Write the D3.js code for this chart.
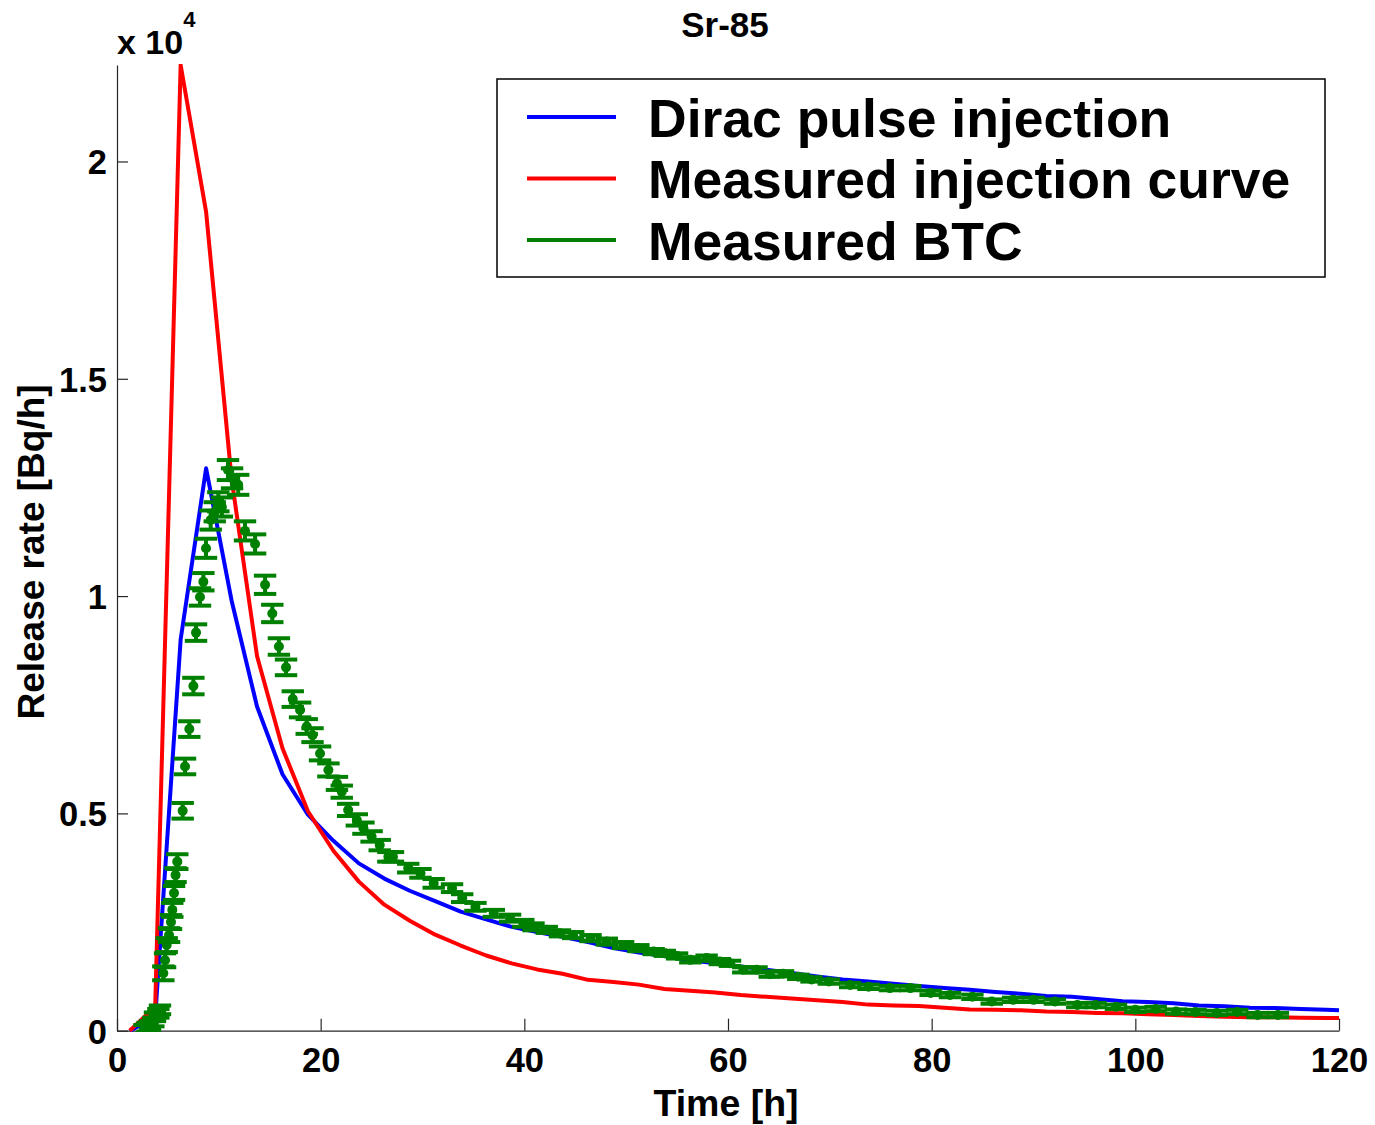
<!DOCTYPE html>
<html><head><meta charset="utf-8">
<script src="https://cdn.jsdelivr.net/npm/d3@7"></script>
<style>
body{margin:0;background:#fff;}
text{font-family:"Liberation Sans",Arial,Helvetica,sans-serif;font-weight:bold;fill:#000;}
</style></head>
<body><svg id="chart" width="1375" height="1125"></svg>
<script>
// values in units of 1e4 Bq/h
const modelTimes = [1.25,3.75,6.25,8.75,11.25,13.75,16.25,18.75,21.25,23.75,26.25,28.75,31.25,33.75,36.25,38.75,41.25,43.75,46.25,48.75,51.25,53.75,56.25,58.75,61.25,63.75,66.25,68.75,71.25,73.75,76.25,78.75,81.25,83.75,86.25,88.75,91.25,93.75,96.25,98.75,101.25,103.75,106.25,108.75,111.25,113.75,116.25,118.75,120];
const diracValues = [0,0.03,0.90,1.294,0.99,0.746,0.59,0.497,0.437,0.385,0.35,0.322,0.298,0.274,0.256,0.239,0.227,0.216,0.204,0.19,0.18,0.172,0.162,0.155,0.148,0.14,0.133,0.125,0.118,0.113,0.108,0.103,0.098,0.094,0.089,0.085,0.08,0.078,0.073,0.068,0.066,0.063,0.058,0.056,0.053,0.052,0.05,0.048,0.047];
const injectionValues = [0,0.055,2.222,1.884,1.27,0.862,0.65,0.505,0.414,0.343,0.29,0.253,0.221,0.196,0.173,0.155,0.141,0.131,0.117,0.112,0.106,0.096,0.092,0.088,0.082,0.078,0.074,0.07,0.066,0.06,0.058,0.057,0.053,0.049,0.048,0.047,0.044,0.043,0.041,0.04,0.038,0.036,0.034,0.032,0.031,0.031,0.03,0.029,0.029];
const btcTimes = [2.7,3.0,3.24,3.57,3.73,4.06,4.22,4.55,4.72,4.88,5.11,5.3,5.43,5.6,5.75,5.92,6.45,6.68,7.1,7.5,7.76,8.15,8.48,8.74,9.2,9.6,9.95,10.3,10.9,11.3,11.9,12.57,13.56,14.54,15.25,15.9,16.6,17.26,17.98,18.63,19.2,19.94,20.76,21.6,22.07,22.7,23.55,24.2,25.0,25.8,26.65,27.1,28.6,29.8,31.1,32.9,33.9,35.2,37.0,38.6,39.9,40.9,42.2,43.5,44.8,46.5,48.1,49.7,51.2,52.7,53.8,55.0,56.3,57.9,59.2,60.2,61.5,62.8,64.1,65.4,66.9,68.2,69.9,72.0,73.8,75.9,77.9,79.9,81.8,84.0,85.9,88.0,90.0,92.1,94.3,96.1,98.1,100,102,104,105.9,108,110,112,114];
const btcValues = [0.003,0.008,0.012,0.02,0.032,0.04,0.048,0.132,0.162,0.197,0.22,0.25,0.278,0.317,0.358,0.389,0.506,0.608,0.694,0.793,0.916,0.998,1.033,1.11,1.175,1.194,1.217,1.205,1.29,1.271,1.256,1.15,1.12,1.026,0.96,0.884,0.836,0.763,0.738,0.70,0.68,0.638,0.60,0.569,0.55,0.508,0.485,0.466,0.447,0.427,0.40,0.40,0.374,0.362,0.339,0.328,0.305,0.285,0.27,0.259,0.247,0.239,0.232,0.224,0.22,0.213,0.205,0.197,0.19,0.182,0.178,0.172,0.163,0.167,0.159,0.155,0.14,0.14,0.13,0.131,0.124,0.118,0.113,0.105,0.101,0.098,0.098,0.087,0.082,0.078,0.067,0.071,0.071,0.067,0.059,0.059,0.055,0.048,0.05,0.044,0.043,0.041,0.043,0.036,0.036];
const btcErrors = [0.01,0.01,0.01,0.01,0.01,0.01,0.01,0.016,0.016,0.016,0.016,0.016,0.016,0.016,0.016,0.017,0.018,0.018,0.018,0.019,0.019,0.02,0.02,0.022,0.022,0.022,0.022,0.022,0.023,0.023,0.023,0.022,0.022,0.021,0.02,0.019,0.018,0.018,0.017,0.017,0.016,0.016,0.015,0.015,0.014,0.014,0.013,0.013,0.012,0.012,0.011,0.011,0.01,0.01,0.01,0.009,0.009,0.009,0.008,0.008,0.008,0.008,0.007,0.007,0.007,0.007,0.007,0.007,0.007,0.006,0.006,0.006,0.006,0.006,0.006,0.006,0.006,0.006,0.006,0.006,0.005,0.005,0.005,0.005,0.005,0.005,0.005,0.005,0.005,0.005,0.005,0.005,0.005,0.005,0.005,0.005,0.005,0.005,0.005,0.005,0.005,0.005,0.005,0.005,0.005];
const xTicks = [0,20,40,60,80,100,120];
const yTicks = [0,0.5,1,1.5,2];
const yTickLabels = ["0","0.5","1","1.5","2"];
const legendLabels = ["Dirac pulse injection","Measured injection curve","Measured BTC"];
const colors = ["#0000ff","#ff0000","#008000"];

const svg = d3.select("#chart");
const x = d3.scaleLinear().domain([0,120]).range([117,1339]);
const y = d3.scaleLinear().domain([0,2.222]).range([1030.7,65]);

svg.append("defs").append("clipPath").attr("id","clip")
  .append("rect").attr("x",117).attr("y",64).attr("width",1223).attr("height",968);

// axes
const xAxis = svg.append("g").attr("transform","translate(0,1030.7)")
  .call(d3.axisBottom(x).tickValues(xTicks).tickFormat(d3.format("d")).tickSizeInner(-12).tickSizeOuter(0).tickPadding(17));
const yAxis = svg.append("g").attr("transform","translate(117,0)")
  .call(d3.axisLeft(y).tickValues(yTicks).tickFormat((d,i)=>yTickLabels[i]).tickSizeInner(-11).tickSizeOuter(0).tickPadding(10));
[xAxis,yAxis].forEach(g=>{
  g.selectAll("path,line").attr("stroke","#262626").attr("stroke-width",1.2);
  g.selectAll("text").style("font-size","34.5px").style("font-family",'"Liberation Sans",Arial,sans-serif').style("font-weight","bold").attr("fill","#000");
});
yAxis.selectAll("text").attr("dy","0.36em");

const plot = svg.append("g").attr("clip-path","url(#clip)");
const line = d3.line().x(d=>x(d[0])).y(d=>y(d[1]));
plot.append("path").datum(modelTimes.map((t,i)=>[t,diracValues[i]]))
  .attr("d",line).attr("fill","none").attr("stroke",colors[0]).attr("stroke-width",4).attr("stroke-linejoin","round");
plot.append("path").datum(modelTimes.map((t,i)=>[t,injectionValues[i]]))
  .attr("d",line).attr("fill","none").attr("stroke",colors[1]).attr("stroke-width",4).attr("stroke-linejoin","round");

const btc = btcTimes.map((t,i)=>({t,v:btcValues[i],e:btcErrors[i]}));
const capHalf = 1.1; // hours
const eb = plot.append("g").attr("stroke",colors[2]).attr("stroke-width",4);
eb.selectAll("line.v").data(btc).join("line").attr("class","v")
  .attr("x1",d=>x(d.t)).attr("x2",d=>x(d.t)).attr("y1",d=>y(d.v-d.e)).attr("y2",d=>y(d.v+d.e));
eb.selectAll("line.top").data(btc).join("line").attr("class","top")
  .attr("x1",d=>x(d.t-capHalf)).attr("x2",d=>x(d.t+capHalf)).attr("y1",d=>y(d.v+d.e)).attr("y2",d=>y(d.v+d.e));
eb.selectAll("line.bot").data(btc).join("line").attr("class","bot")
  .attr("x1",d=>x(d.t-capHalf)).attr("x2",d=>x(d.t+capHalf)).attr("y1",d=>y(d.v-d.e)).attr("y2",d=>y(d.v-d.e));
plot.append("g").selectAll("circle").data(btc).join("circle")
  .attr("cx",d=>x(d.t)).attr("cy",d=>y(d.v)).attr("r",5).attr("fill",colors[2]);

// title and labels
svg.append("text").attr("x",725).attr("y",37).attr("text-anchor","middle").style("font-size","35px").text("Sr-85");
const mult = svg.append("text").attr("x",117).attr("y",54).style("font-size","34px");
mult.append("tspan").text("x 10");
mult.append("tspan").attr("dy",-27).style("font-size","22px").text("4");
svg.append("text").attr("x",726).attr("y",1116).attr("text-anchor","middle").style("font-size","37.5px").text("Time [h]");
svg.append("text").attr("transform","translate(44,552) rotate(-90)").attr("text-anchor","middle").style("font-size","37px").text("Release rate [Bq/h]");

// legend
const lg = svg.append("g");
lg.append("rect").attr("x",497).attr("y",79).attr("width",828).attr("height",198)
  .attr("fill","#fff").attr("stroke","#000").attr("stroke-width",1.5);
const rowsY = [117,178.5,240];
legendLabels.forEach((lab,i)=>{
  lg.append("line").attr("x1",527).attr("x2",616).attr("y1",rowsY[i]).attr("y2",rowsY[i])
    .attr("stroke",colors[i]).attr("stroke-width",4);
  lg.append("text").attr("x",648).attr("y",rowsY[i]+19.5).style("font-size","53.5px").text(lab);
});
</script></body></html>
